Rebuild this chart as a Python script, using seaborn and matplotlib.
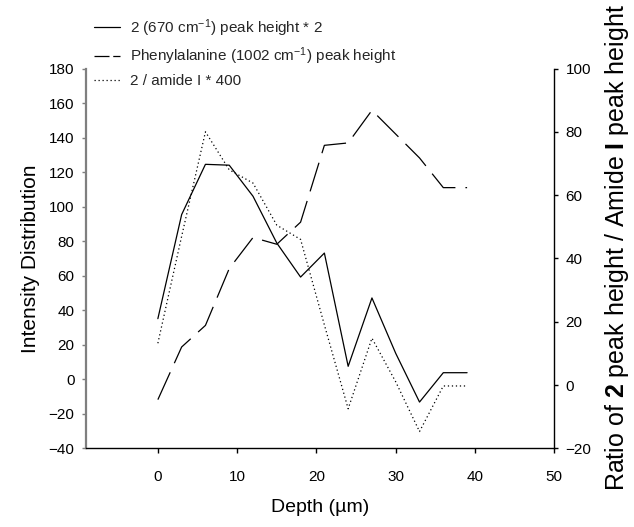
import matplotlib
matplotlib.use("Agg")
import matplotlib.pyplot as plt
from matplotlib.lines import Line2D
import seaborn as sns
import pandas as pd

# depth profile (um) and the three traces
depth = [0, 3, 6, 9, 12, 15, 18, 21, 24, 27, 30, 33, 36, 39]
peak_670 = [35.1, 95.4, 124.5, 124.0, 106.0, 78.9, 59.2, 73.1, 7.5, 47.1, 15.0, -13.2, 3.8, 3.8]
phe_1002 = [-11.8, 18.7, 31.2, 64.1, 82.1, 78.2, 91.0, 135.5, 136.9, 155.8, 142.0, 128.2, 111.0, 111.0]
ratio_amide = [13.2, 47.0, 80.0, 68.0, 63.8, 50.5, 46.0, 19.0, -7.5, 14.8, 1.0, -14.7, -0.3, -0.3]

LABELS = [r"2 (670 cm$^{-1}$) peak height * 2",
          r"Phenylalanine (1002 cm$^{-1}$) peak height",
          "2 / amide I * 400"]


def main():
    sns.set_theme(style="ticks")
    plt.rcParams["font.family"] = ["Liberation Sans", "DejaVu Sans"]
    plt.rcParams["mathtext.fontset"] = "custom"
    plt.rcParams["mathtext.rm"] = "Liberation Sans"
    plt.rcParams["mathtext.bf"] = "Liberation Sans:bold"
    plt.rcParams["mathtext.it"] = "Liberation Sans:italic"

    df = pd.DataFrame({"depth": depth, "p670": peak_670,
                       "phe": phe_1002, "ratio": ratio_amide})

    fig = plt.figure(figsize=(6.34, 5.27), dpi=100)
    ax = fig.add_axes([0.1352, 0.1493, 0.7391, 0.7207])
    ax2 = ax.twinx()

    lw = 0.9
    sns.lineplot(data=df, x="depth", y="p670", ax=ax, color="black",
                 linewidth=lw, legend=False)
    sns.lineplot(data=df, x="depth", y="phe", ax=ax, color="black",
                 linewidth=lw, linestyle=(0, (24, 8)), legend=False)
    sns.lineplot(data=df, x="depth", y="ratio", ax=ax2, color="black",
                 linewidth=lw, linestyle=(0, (1, 2.2)), legend=False)

    ax.set_xlim(-9.1, 50)
    ax.set_ylim(-40, 180)
    ax2.set_ylim(-20, 100)
    ax.set_xticks([0, 10, 20, 30, 40, 50])
    ax.set_yticks(range(-40, 181, 20))
    ax2.set_yticks(range(-20, 101, 20))

    for a in (ax, ax2):
        a.spines["top"].set_visible(False)
    ax.spines["right"].set_visible(False)
    ax2.spines["left"].set_visible(False)
    ax2.spines["bottom"].set_visible(False)
    ax.spines["left"].set_color("#7f7f7f")
    ax.spines["left"].set_linewidth(1.6)
    ax.spines["bottom"].set_color("black")
    ax.spines["bottom"].set_linewidth(1.0)
    ax2.spines["right"].set_color("black")
    ax2.spines["right"].set_linewidth(1.0)

    ax.tick_params(axis="y", direction="out", length=3, width=1,
                   color="#7f7f7f", labelsize=11, pad=5, labelcolor="black")
    ax.tick_params(axis="x", direction="out", length=3.5, width=1,
                   color="black", labelsize=11, pad=12, labelcolor="black")
    ax2.tick_params(axis="y", direction="out", length=3, width=1,
                    color="black", labelsize=11, pad=5, labelcolor="black")

    ax.set_xlabel("Depth (\u00b5m)", fontsize=14, labelpad=11, color="black")
    ax.set_ylabel("Intensity Distribution", fontsize=15, labelpad=6, color="black")
    ax2.set_ylabel(r"Ratio of $\mathbf{2}$ peak height / Amide $\mathbf{I}$ peak height",
                   fontsize=18, labelpad=8, color="black")
    ax2.yaxis.set_label_coords(1.103, 0.528)

    # legend keys (the dashed key uses a shorter dash, as in the original)
    keys = [Line2D([], [], color="black", lw=lw),
            Line2D([], [], color="black", lw=lw, linestyle=(0, (12, 3))),
            Line2D([], [], color="black", lw=lw, linestyle=(0, (1, 2.2)))]
    fig.legend(keys, LABELS, loc="upper left", bbox_to_anchor=(0.148, 0.9675),
               frameon=False, fontsize=11, handlelength=1.7, handletextpad=0.7,
               borderpad=0, borderaxespad=0, labelspacing=0.45)

    fig.savefig("out.png", dpi=100)


if __name__ == "__main__":
    main()
